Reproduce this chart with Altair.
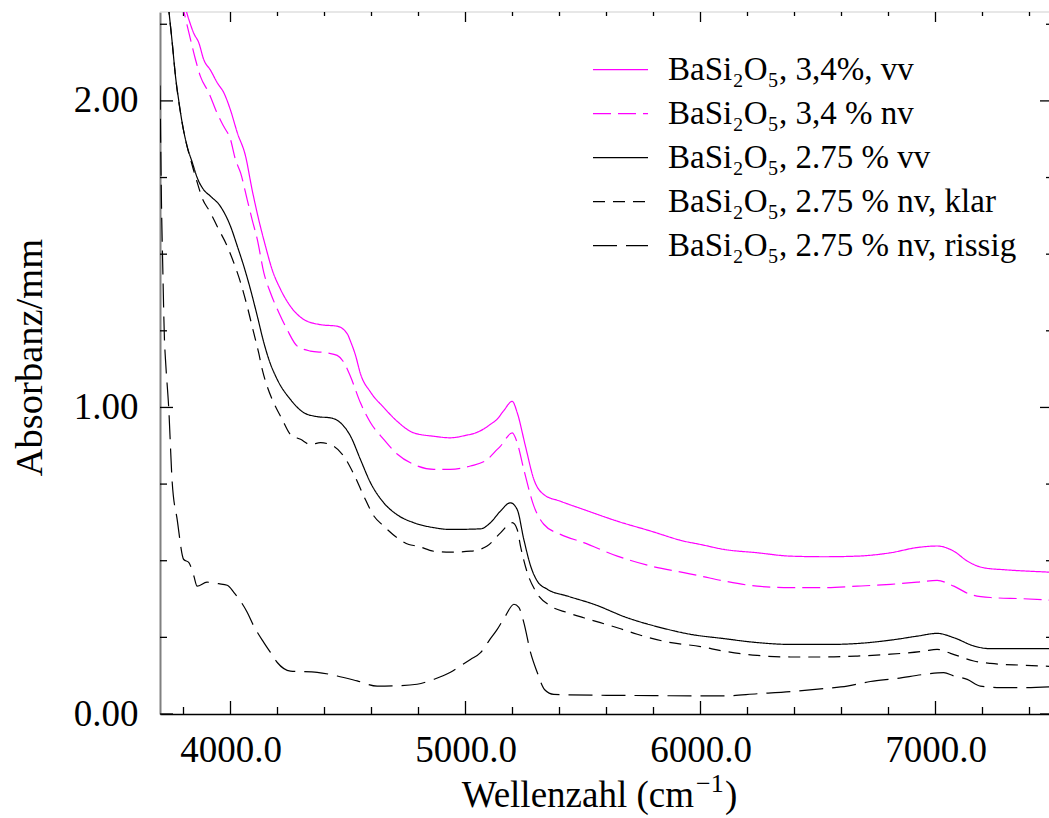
import altair as alt
import pandas as pd

# ---------------- data ----------------
SERIES = [
    "BaSi₂O₅, 3,4%, vv",
    "BaSi₂O₅, 3,4 % nv",
    "BaSi₂O₅, 2.75 % vv",
    "BaSi₂O₅, 2.75 % nv, klar",
    "BaSi₂O₅, 2.75 % nv, rissig",
]
COLORS = ["#ff00ff", "#ff00ff", "#000000", "#000000", "#000000"]
DASHES = [[1, 0], [18, 7], [1, 0], [12, 8], [24, 9]]

wn_34_vv = [3740, 3809, 3823, 3844, 3865, 3886, 3915, 3943, 3972, 4000, 4029, 4064, 4092, 4120,
            4149, 4177, 4213, 4255, 4312, 4383, 4454, 4497, 4511, 4532, 4553, 4596, 4652, 4709,
            4780, 4865, 4936, 5007, 5035, 5078, 5106, 5135, 5163, 5199, 5220, 5255, 5291, 5333,
            5404, 5503, 5646, 5787, 5929, 6000, 6099, 6241, 6383, 6525, 6667, 6809, 6922, 7007,
            7078, 7135, 7205, 7305, 7475, 7500]
ab_34_vv = [2.47, 2.30, 2.265, 2.22, 2.19, 2.135, 2.10, 2.06, 2.026, 1.97, 1.896, 1.82, 1.71, 1.613,
            1.526, 1.45, 1.385, 1.33, 1.287, 1.27, 1.265, 1.24, 1.215, 1.17, 1.11, 1.05, 1.0, 0.955,
            0.917, 0.906, 0.901, 0.910, 0.915, 0.930, 0.945, 0.962, 0.990, 1.02, 0.983, 0.874, 0.765, 0.716,
            0.694, 0.667, 0.629, 0.597, 0.564, 0.553, 0.537, 0.526, 0.515, 0.513, 0.515, 0.526, 0.543, 0.548,
            0.531, 0.499, 0.477, 0.47, 0.463, 0.462]

wn_34_nv = [3790, 3830, 3851, 3872, 3908, 3943, 3971, 4000, 4021, 4043, 4071, 4092, 4114, 4142,
            4170, 4206, 4241, 4284, 4340, 4411, 4454, 4480, 4511, 4553, 4596, 4652, 4709, 4780,
            4865, 4936, 5021, 5092, 5135, 5149, 5199, 5220, 5248, 5291, 5333, 5404, 5503, 5646,
            5787, 5929, 6000, 6099, 6241, 6383, 6525, 6667, 6809, 6922, 7007, 7078, 7149, 7234,
            7374, 7475, 7500]
ab_34_nv = [2.33, 2.20, 2.135, 2.08, 2.026, 1.96, 1.917, 1.874, 1.809, 1.765, 1.678, 1.613, 1.548, 1.439,
            1.374, 1.309, 1.254, 1.20, 1.184, 1.178, 1.17, 1.15, 1.10, 1.015, 0.95, 0.896, 0.848, 0.814,
            0.798, 0.798, 0.809, 0.83, 0.863, 0.874, 0.917, 0.885, 0.798, 0.678, 0.619, 0.586, 0.559, 0.515,
            0.483, 0.461, 0.45, 0.434, 0.417, 0.412, 0.412, 0.417, 0.423, 0.43, 0.436, 0.417, 0.39, 0.38,
            0.376, 0.372, 0.371]

wn_275_vv = [3700, 3720, 3737, 3752, 3766, 3780, 3794, 3816, 3837, 3858, 3886, 3915, 3957, 4000,
             4029, 4057, 4085, 4114, 4142, 4163, 4199, 4255, 4312, 4369, 4426, 4468, 4511, 4553,
             4596, 4652, 4709, 4780, 4865, 4936, 5064, 5106, 5149, 5191, 5220, 5248, 5277, 5305,
             5348, 5433, 5546, 5688, 5830, 5957, 6099, 6241, 6383, 6553, 6667, 6809, 6922, 7007,
             7078, 7163, 7234, 7374, 7500]
ab_275_vv = [2.58, 2.43, 2.30, 2.19, 2.08, 2.00, 1.93, 1.85, 1.80, 1.75, 1.71, 1.689, 1.656, 1.591,
             1.526, 1.46, 1.385, 1.298, 1.211, 1.157, 1.091, 1.026, 0.983, 0.97, 0.966, 0.95, 0.906, 0.83,
             0.754, 0.689, 0.65, 0.624, 0.608, 0.602, 0.604, 0.624, 0.662, 0.689, 0.667, 0.57, 0.483, 0.434,
             0.407, 0.385, 0.358, 0.314, 0.282, 0.26, 0.246, 0.233, 0.227, 0.227, 0.23, 0.241, 0.254, 0.263,
             0.249, 0.222, 0.213, 0.213, 0.213]

wn_275_klar = [3700, 3720, 3737, 3752, 3766, 3794, 3837, 3858, 3879, 3915, 3943, 3986, 4014, 4043,
               4071, 4099, 4120, 4135, 4156, 4184, 4220, 4255, 4298, 4340, 4383, 4433, 4482, 4525,
               4567, 4610, 4652, 4709, 4759, 4794, 4865, 4936, 5021, 5092, 5149, 5199, 5220, 5234,
               5263, 5298, 5362, 5433, 5503, 5574, 5660, 5731, 5858, 6000, 6099, 6241, 6383, 6525,
               6667, 6809, 6950, 7007, 7064, 7163, 7234, 7374, 7500]
ab_275_klar = [2.58, 2.43, 2.30, 2.19, 2.08, 1.93, 1.79, 1.735, 1.684, 1.635, 1.591, 1.526, 1.472, 1.407,
               1.33, 1.243, 1.178, 1.124, 1.069, 1.015, 0.961, 0.912, 0.896, 0.879, 0.885, 0.876, 0.841, 0.782,
               0.711, 0.646, 0.613, 0.575, 0.553, 0.548, 0.531, 0.528, 0.531, 0.548, 0.591, 0.624, 0.602, 0.548,
               0.461, 0.401, 0.352, 0.331, 0.314, 0.298, 0.278, 0.26, 0.235, 0.22, 0.205, 0.191, 0.186, 0.186,
               0.189, 0.195, 0.205, 0.211, 0.198, 0.173, 0.165, 0.159, 0.155]

wn_275_rissig = [3700, 3702, 3706, 3712, 3719, 3723, 3737, 3752, 3773, 3801, 3823, 3844, 3858, 3900,
                 3950, 3986, 4014, 4071, 4099, 4142, 4170, 4199, 4255, 4369, 4454, 4539, 4624, 4709,
                 4794, 4865, 4936, 4979, 5021, 5064, 5099, 5135, 5170, 5206, 5227, 5248, 5277, 5305,
                 5336, 5376, 5600, 5800, 5957, 6098, 6241, 6383, 6525, 6624, 6723, 6837, 6950, 7035,
                 7078, 7135, 7191, 7277, 7374, 7500]
ab_275_rissig = [2.05, 1.92, 1.68, 1.45, 1.22, 1.16, 1.0, 0.755, 0.635, 0.504, 0.494, 0.45, 0.417, 0.43,
                 0.425, 0.42, 0.397, 0.332, 0.287, 0.233, 0.201, 0.168, 0.14, 0.136, 0.124, 0.108, 0.091, 0.092,
                 0.097, 0.113, 0.136, 0.157, 0.178, 0.2, 0.238, 0.276, 0.32, 0.358, 0.348, 0.299, 0.2, 0.136,
                 0.08, 0.064, 0.061, 0.06, 0.059, 0.059, 0.066, 0.073, 0.083, 0.091, 0.106, 0.116, 0.129, 0.135,
                 0.124, 0.113, 0.091, 0.086, 0.086, 0.089]

x_label_values = [4000, 5000, 6000, 7000]
x_minor_values = [3800, 4200, 4400, 4600, 4800, 5200, 5400, 5600, 5800,
                  6200, 6400, 6600, 6800, 7200, 7400]
y_label_values = [0.0, 1.0, 2.0]
y_minor_values = [0.25, 0.5, 0.75, 1.25, 1.5, 1.75, 2.25]

# ---------------- build table ----------------
rows = []
pairs = [(wn_34_vv, ab_34_vv), (wn_34_nv, ab_34_nv), (wn_275_vv, ab_275_vv),
         (wn_275_klar, ab_275_klar), (wn_275_rissig, ab_275_rissig)]
for i, (wn, ab) in enumerate(pairs):
    assert len(wn) == len(ab), (i, len(wn), len(ab))
    for w, a in zip(wn, ab):
        rows.append({"wn": w, "A": a, "series": SERIES[i]})
df = pd.DataFrame(rows)

W, H = 893, 702
FONT = "Liberation Serif"

xscale = alt.Scale(domain=[3700, 7500], nice=False, zero=False)
yscale = alt.Scale(domain=[0, 2.29], nice=False, zero=False)

xaxis = alt.Axis(values=x_label_values, format=".1f", ticks=False, grid=False,
                 domainColor="black", domainWidth=1.5,
                 labelFont=FONT, labelFontSize=37, labelColor="black",
                 labelPadding=47, labelBaseline="alphabetic",
                 labelFlush=False, labelOverlap=False, title=None)
yaxis = alt.Axis(values=y_label_values, format=".2f", ticks=False, grid=False,
                 domainColor="#808080", domainWidth=2,
                 labelFont=FONT, labelFontSize=37, labelColor="black",
                 labelPadding=22, labelBaseline="middle",
                 labelFlush=False, labelOverlap=False,
                 title="Absorbanz/mm", titleFont=FONT, titleFontSize=38.5,
                 titleFontWeight="normal", titleColor="black", titleAngle=270,
                 titleX=-119, titleY=345, titleAlign="center", titleBaseline="alphabetic")

X = alt.X("wn:Q", scale=xscale, axis=xaxis)
Y = alt.Y("A:Q", scale=yscale, axis=yaxis)

leg = alt.Legend(title=None, orient="none", legendX=432, legendY=36,
                 symbolType="stroke", symbolSize=3025, symbolStrokeWidth=1.2,
                 labelFont=FONT, labelFontSize=33, labelColor="black",
                 labelOffset=19, clipHeight=43.3, rowPadding=0, padding=0,
                 labelLimit=0)

lines = alt.Chart(df).mark_line(strokeWidth=1.2, clip=True, interpolate="monotone").encode(
    x=X, y=Y,
    color=alt.Color("series:N", scale=alt.Scale(domain=SERIES, range=COLORS), legend=leg),
    strokeDash=alt.StrokeDash("series:N", scale=alt.Scale(domain=SERIES, range=DASHES), legend=leg),
    order=alt.Order("wn:Q"),
)

df_xmaj = pd.DataFrame({"wn": x_label_values})
df_xmin = pd.DataFrame({"wn": x_minor_values})
df_ymaj = pd.DataFrame({"A": y_label_values})
df_ymin = pd.DataFrame({"A": y_minor_values})

tick_style = dict(color="black", strokeWidth=1.3)


def xticks(d, y0, y1):
    return alt.Chart(d).mark_rule(**tick_style).encode(x=X, y=alt.value(y0), y2=alt.value(y1))


def yticks(d, x0, x1):
    return alt.Chart(d).mark_rule(**tick_style).encode(y=Y, x=alt.value(x0), x2=alt.value(x1))


ticks = [
    xticks(df_xmaj, H, H - 13), xticks(df_xmin, H, H - 7),
    xticks(df_xmaj, 0, 10), xticks(df_xmin, 0, 4),
    yticks(df_ymaj, 0, 13), yticks(df_ymin, 0, 7),
    yticks(df_ymaj, W, W - 13), yticks(df_ymin, W, W - 7),
]

one = pd.DataFrame({"t": ["x"]})
top_frame = alt.Chart(one).mark_rule(color="#cfcfcf", strokeWidth=1).encode(
    x=alt.value(0), x2=alt.value(W), y=alt.value(0))

t_main = alt.Chart(pd.DataFrame({"t": ["Wellenzahl (cm"]})).mark_text(
    font=FONT, fontSize=37, align="left", baseline="alphabetic", color="black"
).encode(text="t:N", x=alt.value(301.7), y=alt.value(794.7))
t_sup = alt.Chart(pd.DataFrame({"t": ["−1"]})).mark_text(
    font=FONT, fontSize=26, align="left", baseline="alphabetic", color="black"
).encode(text="t:N", x=alt.value(536), y=alt.value(780))
t_close = alt.Chart(pd.DataFrame({"t": [")"]})).mark_text(
    font=FONT, fontSize=37, align="left", baseline="alphabetic", color="black"
).encode(text="t:N", x=alt.value(565), y=alt.value(794.7))

chart = alt.layer(top_frame, *ticks, lines, t_main, t_sup, t_close).properties(
    width=W, height=H,
    padding={"left": 160, "top": 12, "right": -4, "bottom": 104},
    autosize=alt.AutoSizeParams(type="none"),
).configure_view(stroke=None)

chart.save("out.html", embed_options={"renderer": "svg", "actions": False})
